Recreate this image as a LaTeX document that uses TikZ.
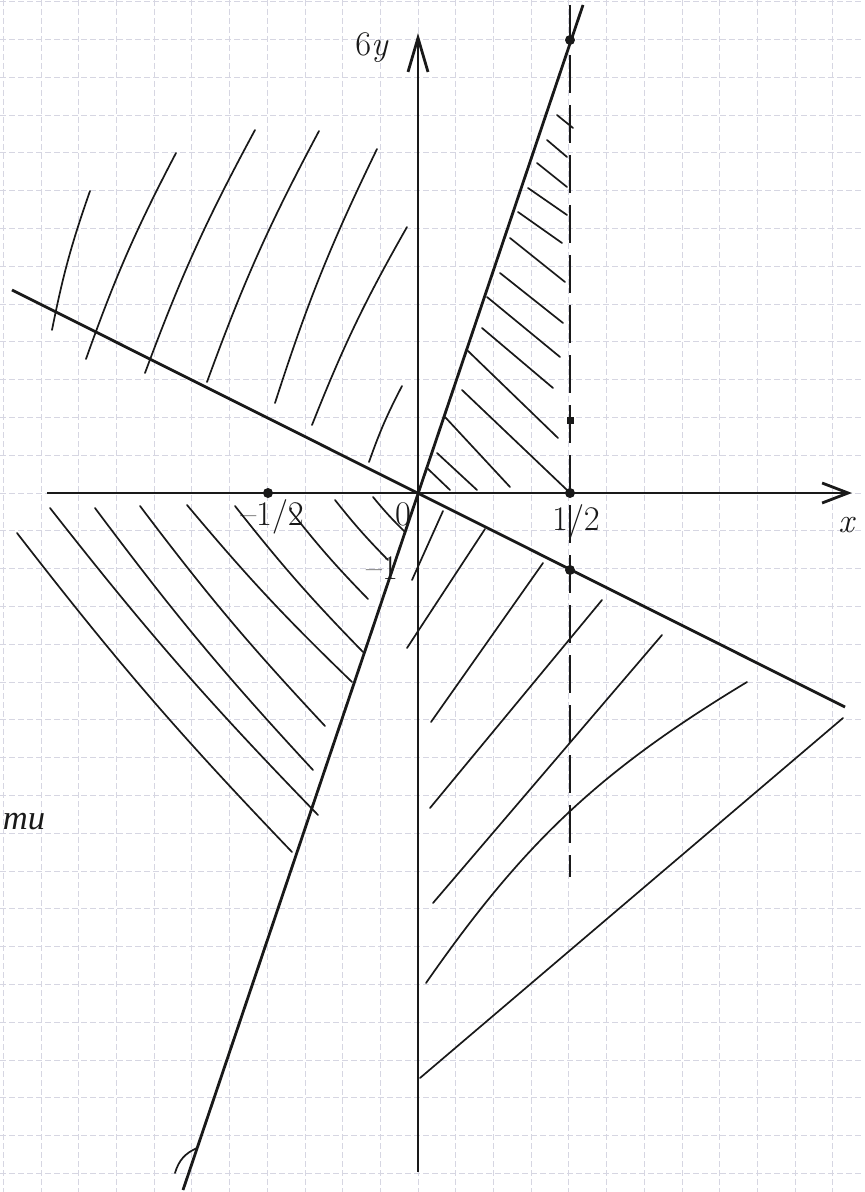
\documentclass[tikz,border=0pt]{standalone}
\usepackage{fontspec}
\newfontfamily\cyrfont{Liberation Serif}
\usetikzlibrary{arrows.meta}
\definecolor{gridgray}{RGB}{214,214,226}
\definecolor{ink}{RGB}{25,25,25}

\begin{document}
\begin{tikzpicture}[
        x=0.5pt, y=-0.5pt,
        gridline/.style={draw=gridgray, line width=0.4pt, dash pattern=on 3pt off 1.5pt},
        axisline/.style={draw=ink, line width=1.4pt},
        lineplot/.style={draw=ink, line width=1.4pt},
        bound/.style={draw=ink, line width=1.4pt, dash pattern=on 19pt off 6pt},
        hatch/.style={draw=ink, line width=0.85pt, line cap=round},
        dot/.style={circle, fill=ink, inner sep=0pt, minimum size=5pt},
        tickbox/.style={rectangle, fill=ink, inner sep=0pt, minimum size=3.5pt},
        lbl/.style={text=ink, font=\LARGE, inner sep=0pt}
    ]

    \fill[white] (0,0) rectangle (864,1192);
    \useasboundingbox (0,0) rectangle (864,1192);

    % squared paper
    \foreach \k in {-11,...,11}
        \draw[gridline] ({418+37.7*\k},0) -- ({418+37.7*\k},1192);
    \foreach \k in {-13,...,18}
        \draw[gridline] (0,{493+37.8*\k}) -- (864,{493+37.8*\k});

    \coordinate (O) at (418,493);
    \coordinate (xl) at (47,493);
    \coordinate (xr) at (852,493);
    \coordinate (yb) at (418,1172);
    \coordinate (yt) at (418,33);
    \coordinate (sA) at (183,1190);
    \coordinate (sB) at (583,5);
    \coordinate (fA) at (12,290);
    \coordinate (fB) at (845,707);
    \coordinate (dT) at (570,5);
    \coordinate (dB) at (570,877);

    % hatching
    \foreach \xa/\ya/\xb/\yb in {52/330/90/191, 86/359/176/153, 145/373/255/130,
            207/382/319/131, 275/403/377/149, 312/425/407/227, 369/462/402/386}
        \draw[hatch] (\xa,\ya) to[bend left=4] (\xb,\yb);
    \foreach \xa/\ya/\xb/\yb in {17/533/292/852, 50/508/318/815, 95/508/313/770,
            140/506/325/726, 187/505/352/682, 235/506/363/652, 290/510/368/599,
            335/500/388/560, 373/497/405/532}
        \draw[hatch] (\xa,\ya) to[bend right=3] (\xb,\yb);
    \foreach \xa/\ya/\xb/\yb in {557/115/573/128, 547/140/567/157, 537/163/567/187,
            528/188/567/215, 518/212/562/243, 510/238/565/282, 500/273/563/323,
            487/297/560/357, 482/328/553/388, 467/350/558/438, 462/390/567/490,
            445/417/510/487, 437/453/477/490, 427/468/450/490}
        \draw[hatch] (\xa,\ya) -- (\xb,\yb);
    \foreach \xa/\ya/\xb/\yb in {412/580/443/511, 407/648/485/529, 431/722/543/563,
            430/808/602/600, 433/903/662/635, 420/1078/843/718}
        \draw[hatch] (\xa,\ya) -- (\xb,\yb);
    \draw[hatch] (426,983) to[bend left=12] (747,682);
    \draw[hatch] (197,1148) to[bend right=25] (175,1173);

    % axes and lines
    \draw[axisline, -{Straight Barb[length=13pt, width=10pt]}] (xl) -- (xr);
    \draw[axisline, -{Straight Barb[length=17pt, width=10pt]}] (yb) -- (yt);
    \draw[lineplot] (sA) -- (sB);
    \draw[lineplot] (fA) -- (fB);
    \draw[bound] (dT) -- (dB);

    \node[dot] (pTop) at (570,40) {};
    \node[dot] (pHalf) at (570,493) {};
    \node[dot] (pLow) at (570,570) {};
    \node[dot] (pMinus) at (268,493) {};
    \node[tickbox] (pQ) at (570,420) {};

    \node[lbl] (lblY) at (372,48) {6\textit{y}};
    \node[lbl] (lblX) at (847,525) {\textit{x}};
    \node[lbl] (lblO) at (403,514) {0};
    \node[lbl] (lblMh) at (272,517) {–1/2};
    \node[lbl] (lblH) at (576,522) {1/2};
    \node[lbl] (lblMo) at (382,568) {–1};
    \node[lbl, font=\LARGE\cyrfont\itshape] (lblTi) at (24,822) {ти};

\end{tikzpicture}
\end{document}
